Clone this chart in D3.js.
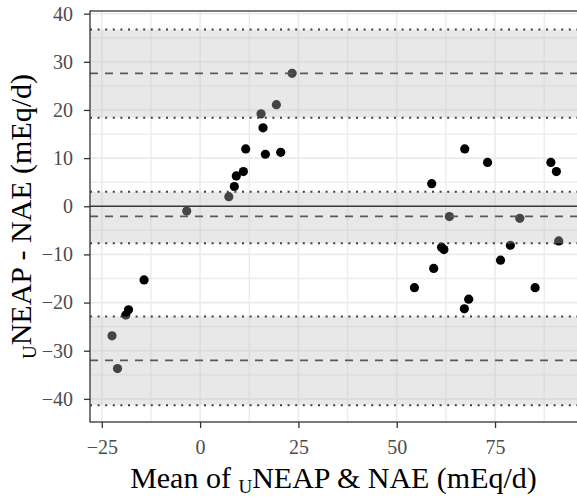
<!DOCTYPE html>
<html>
<head>
<meta charset="utf-8">
<script src="https://cdn.jsdelivr.net/npm/d3@7"></script>
<style>
body { margin: 0; background: #ffffff; }
svg { display: block; }
.serif { font-family: "Liberation Serif", "DejaVu Serif", "Noto Serif", "Times New Roman", Times, "Nimbus Roman", FreeSerif, serif; }
</style>
</head>
<body>
<svg id="graph" width="577" height="499"></svg>
<script>
// Bland-Altman data: mean of the two methods and their difference
var mean_values = [-22.4, -21.0, -18.9, -18.2, -14.25, -3.4, 7.3, 8.7, 9.2, 11.0, 11.6, 15.5, 16.0, 16.6, 19.4, 20.5, 23.4,
    54.5, 58.9, 59.4, 61.4, 62.0, 63.4, 67.2, 67.3, 68.3, 73.1, 76.4, 78.9, 81.3, 85.2, 89.2, 90.6, 91.2];
var diff_values = [-26.9, -33.7, -22.6, -21.5, -15.3, -1.0, 2.0, 4.1, 6.3, 7.2, 11.9, 19.2, 16.3, 10.8, 21.1, 11.2, 27.6,
    -16.9, 4.7, -12.9, -8.5, -9.0, -2.15, -21.3, 11.9, -19.3, 9.1, -11.2, -8.1, -2.5, -16.9, 9.1, 7.2, -7.2];

// bias and limits of agreement with their confidence intervals
var line_values = [27.6, -2.1, -32.0];
var band_lows = [18.4, -7.7, -41.3];
var band_highs = [36.7, 3.0, -22.9];

var x_ticks = [-25, 0, 25, 50, 75];
var x_minor_ticks = [-12.5, 12.5, 37.5, 62.5, 87.5];
var y_ticks = [-40, -30, -20, -10, 0, 10, 20, 30, 40];
var y_minor_ticks = [-35, -25, -15, -5, 5, 15, 25, 35];

window.onload = function()
{
    var graph = d3.select("#graph");
    var left = 90, right = 578, top = 11, bottom = 422;

    var x = d3.scaleLinear().domain([-28.0, 96.1]).range([left, right]);
    var y = d3.scaleLinear().domain([-44.8, 40.55]).range([bottom, top]);

    var grid = graph.append("g");
    grid.selectAll("line.vminor").data(x_minor_ticks).enter().append("line").
        attr("x1", function(d) { return x(d); }).
        attr("x2", function(d) { return x(d); }).
        attr("y1", top).attr("y2", bottom).
        attr("stroke", "#ebebeb").attr("stroke-width", 1.3);
    grid.selectAll("line.hminor").data(y_minor_ticks).enter().append("line").
        attr("y1", function(d) { return y(d); }).
        attr("y2", function(d) { return y(d); }).
        attr("x1", left).attr("x2", right).
        attr("stroke", "#ebebeb").attr("stroke-width", 1.3);
    grid.selectAll("line.vmajor").data(x_ticks).enter().append("line").
        attr("x1", function(d) { return x(d); }).
        attr("x2", function(d) { return x(d); }).
        attr("y1", top).attr("y2", bottom).
        attr("stroke", "#ebebeb").attr("stroke-width", 1.6);
    grid.selectAll("line.hmajor").data(y_ticks).enter().append("line").
        attr("y1", function(d) { return y(d); }).
        attr("y2", function(d) { return y(d); }).
        attr("x1", left).attr("x2", right).
        attr("stroke", "#ebebeb").attr("stroke-width", 1.6);

    var points = mean_values.map(function(m, i) { return {mean: m, diff: diff_values[i]}; });
    graph.append("g").selectAll("circle").data(points).enter().append("circle").
        attr("cx", function(p) { return x(p.mean); }).
        attr("cy", function(p) { return y(p.diff); }).
        attr("r", 4.6).
        attr("fill", "#000000");

    // translucent bands sit on top of the points, which greys out those inside them
    graph.append("g").selectAll("rect").data(band_lows).enter().append("rect").
        attr("x", left).
        attr("width", right - left).
        attr("y", function(d, i) { return y(band_highs[i]); }).
        attr("height", function(d, i) { return y(d) - y(band_highs[i]); }).
        attr("fill", "#bebebe").
        attr("fill-opacity", 0.36);

    graph.append("line").
        attr("x1", left).attr("x2", right).
        attr("y1", y(0)).attr("y2", y(0)).
        attr("stroke", "#3a3a3a").attr("stroke-width", 1.4);

    graph.append("g").selectAll("line").data(line_values).enter().append("line").
        attr("x1", left).attr("x2", right).
        attr("y1", function(d) { return y(d); }).
        attr("y2", function(d) { return y(d); }).
        attr("stroke", "#5a5a5a").attr("stroke-width", 1.6).
        attr("stroke-dasharray", "8 7");

    var dotted = band_lows.concat(band_highs);
    graph.append("g").selectAll("line").data(dotted).enter().append("line").
        attr("x1", left).attr("x2", right).
        attr("y1", function(d) { return y(d); }).
        attr("y2", function(d) { return y(d); }).
        attr("stroke", "#3f3f3f").attr("stroke-width", 2).
        attr("stroke-dasharray", "2 5.6");

    graph.append("rect").
        attr("x", left).attr("y", top).
        attr("width", right - left).attr("height", bottom - top).
        attr("fill", "none").attr("stroke", "#333333").attr("stroke-width", 1.3);

    var x_axis = graph.append("g").
        attr("transform", "translate(0," + bottom + ")").
        call(d3.axisBottom(x).tickValues(x_ticks).tickSize(6).tickPadding(12).tickFormat(d3.format("d")));
    var y_axis = graph.append("g").
        attr("transform", "translate(" + left + ",0)").
        call(d3.axisLeft(y).tickValues(y_ticks).tickSize(6).tickPadding(11).tickFormat(d3.format("d")));
    [x_axis, y_axis].forEach(function(axis)
    {
        axis.attr("font-family", null).attr("font-size", null);
        axis.select(".domain").remove();
        axis.selectAll(".tick line").attr("stroke", "#333333").attr("stroke-width", 1.3);
        axis.selectAll(".tick text").
            attr("class", "serif").
            attr("fill", "#4d4d4d").
            style("font-size", "20px");
    });

    var x_title = graph.append("text").
        attr("class", "serif").
        attr("x", (left + 577) / 2).
        attr("y", 488).
        attr("text-anchor", "middle").
        style("font-size", "30px").
        attr("fill", "#000000");
    x_title.append("tspan").text("Mean of ");
    x_title.append("tspan").attr("dy", 5).style("font-size", "19px").text("U");
    x_title.append("tspan").attr("dy", -5).text("NEAP & NAE (mEq/d)");

    var y_title = graph.append("text").
        attr("class", "serif").
        attr("transform", "translate(31," + ((top + bottom) / 2) + ") rotate(-90)").
        attr("text-anchor", "middle").
        style("font-size", "30px").
        attr("fill", "#000000");
    y_title.append("tspan").attr("dy", 5).style("font-size", "19px").text("U");
    y_title.append("tspan").attr("dy", -5).text("NEAP - NAE (mEq/d)");
}
</script>
</body>
</html>
